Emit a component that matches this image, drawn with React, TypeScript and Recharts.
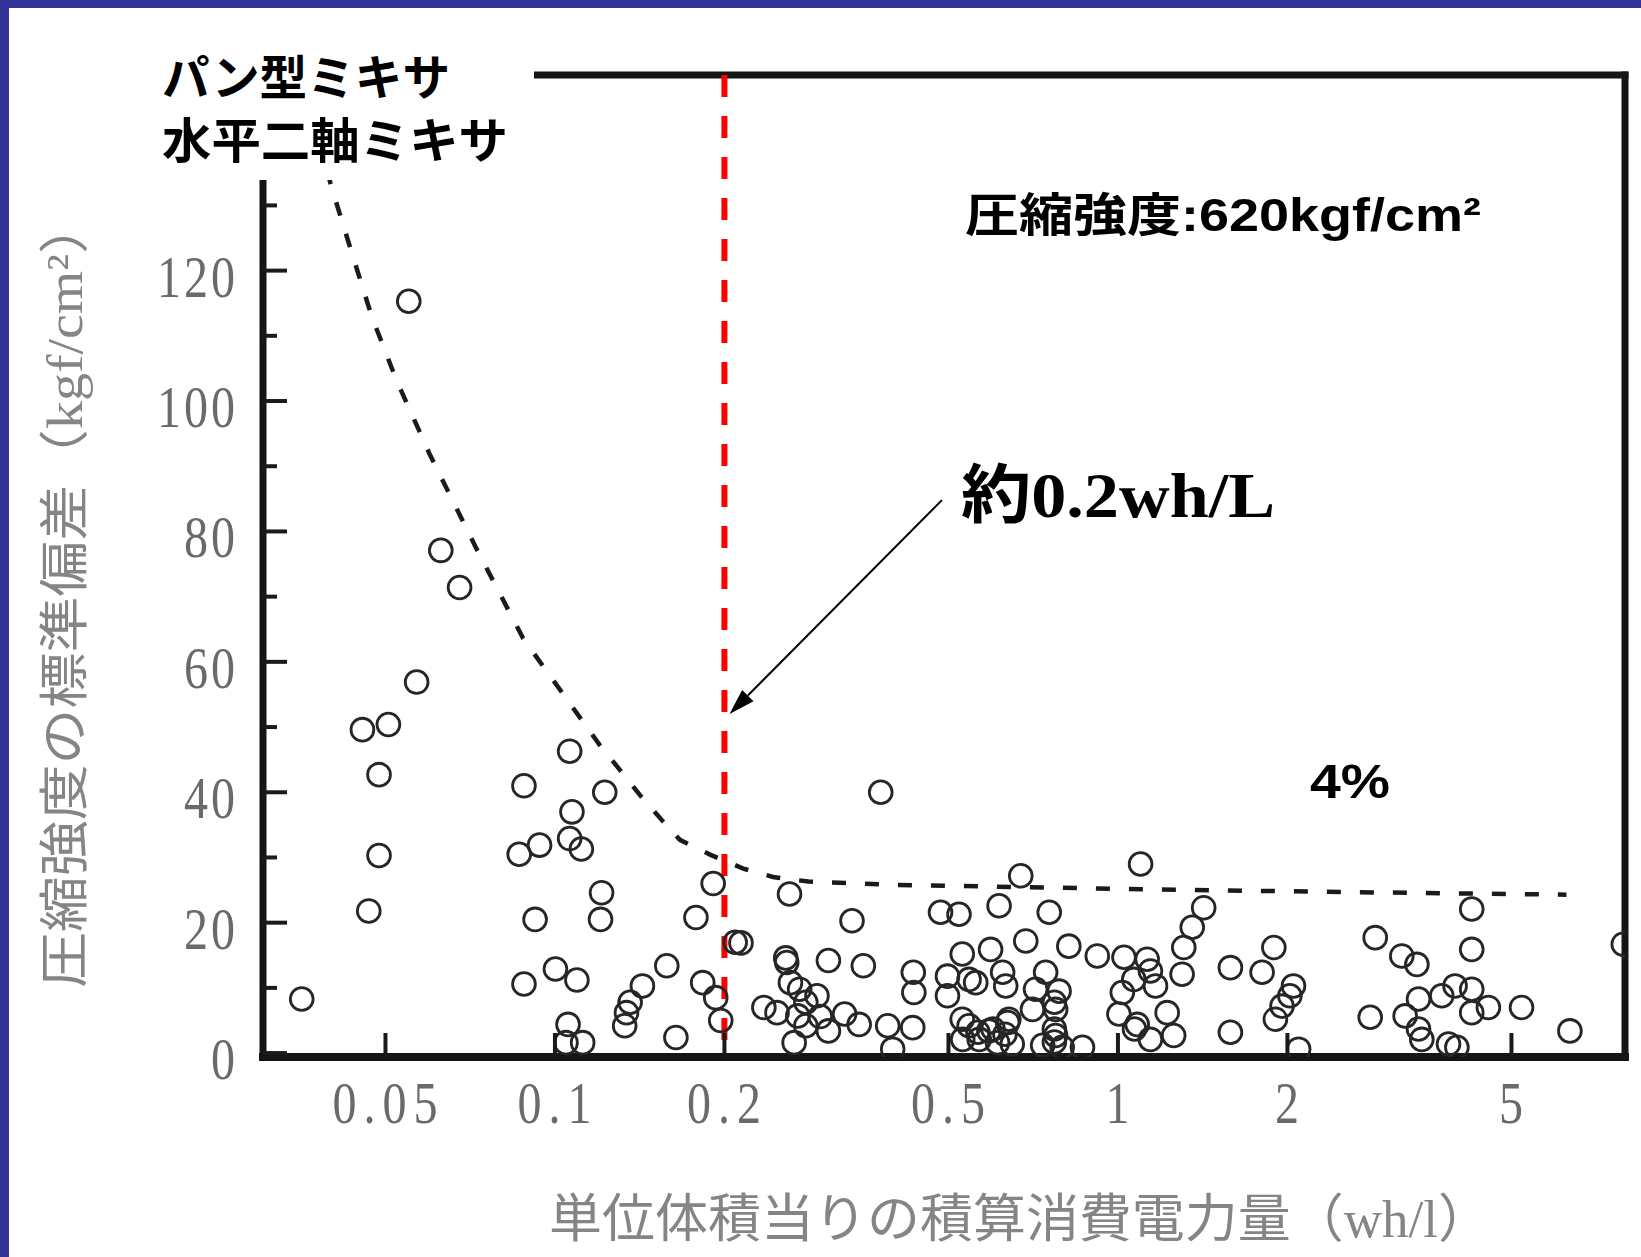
import { ScatterChart, Scatter, XAxis, YAxis, ReferenceLine } from 'recharts';

const W = 1641;
const H = 1257;

// log axis limits (wh/l)
const X_MIN = 0.0303;
const X_MAX = 7.955;

// integrated power per unit volume (wh/l) for each batch
const ENERGY = [
  0.0355, 0.0455, 0.0506, 0.0487, 0.0487, 0.0467, 0.0568, 0.055, 0.0627, 0.0677,
  0.0881, 0.0864, 0.0939, 0.0922, 0.0881, 0.1002, 0.1094, 0.1062, 0.1072, 0.1062,
  0.1114, 0.1226, 0.121, 0.1205, 0.1055, 0.1046, 0.112, 0.136, 0.134, 0.133,
  0.143, 0.158, 0.164, 0.183, 0.193, 0.197, 0.191, 0.178, 0.209, 0.214,
  0.261, 0.258, 0.257, 0.262, 0.272, 0.292, 0.279, 0.235, 0.248, 0.27,
  0.279, 0.266, 0.306, 0.306, 0.337, 0.353, 0.433, 0.327, 0.347, 0.39,
  0.398, 0.434, 0.432, 0.379, 0.484, 0.522, 0.615, 0.672, 0.686, 0.498,
  0.498, 0.529, 0.594, 0.559, 0.624, 0.632, 0.544, 0.529, 0.544, 0.59,
  0.637, 0.567, 0.611, 0.53, 0.649, 0.6, 0.64, 0.564, 0.63, 0.755,
  0.818, 0.919, 0.744, 0.714, 0.786, 0.705, 0.775, 0.775, 0.796, 0.865,
  0.771, 0.771, 0.771, 1.097, 1.025, 1.127, 1.018, 1.067, 1.142, 1.004,
  1.082, 1.142, 1.42, 1.355, 1.309, 1.3, 1.166, 1.223, 1.256, 1.07,
  1.584, 1.803, 1.892, 2.05, 2.02, 1.956, 1.904, 1.584, 2.094, 2.864,
  3.193, 3.396, 2.806, 3.237, 3.419, 3.76, 3.419, 3.465, 3.865, 4.0,
  4.25, 4.25, 3.97, 4.25, 4.25, 4.55, 5.21, 6.35, 7.9, 0.296,
  0.735,
];

// standard deviation of compressive strength (kgf/cm²), same order as ENERGY
const STD_DEV = [
  8.3, 49.6, 50.4, 42.7, 30.3, 21.8, 56.9, 115.3, 77.1, 71.4,
  41.0, 30.5, 31.9, 20.5, 10.6, 12.9, 11.2, 46.3, 37.0, 32.9,
  31.3, 40.0, 24.6, 20.5, 4.4, 1.6, 1.6, 7.8, 6.2, 4.2,
  10.3, 13.4, 2.4, 10.8, 8.5, 5.0, 26.0, 20.8, 17.0, 16.9,
  24.4, 13.9, 14.6, 10.8, 9.8, 8.8, 7.8, 7.0, 6.2, 5.7,
  4.2, 1.6, 3.4, 14.2, 20.3, 13.4, 12.4, 6.0, 4.4, 4.2,
  0.6, 9.3, 3.9, 40.0, 21.6, 21.3, 22.6, 27.2, 17.2, 11.8,
  8.8, 15.2, 15.9, 10.8, 12.4, 10.3, 11.3, 5.2, 4.2, 3.4,
  4.7, 2.1, 1.6, 2.1, 1.4, 3.7, 5.2, 3.2, 2.9, 21.6,
  16.4, 14.9, 12.4, 9.8, 9.5, 6.7, 6.7, 2.7, 0.9, 0.9,
  3.7, 7.8, 1.7, 29.0, 14.7, 14.4, 9.3, 11.3, 12.6, 6.0,
  4.4, 2.1, 22.3, 19.3, 16.2, 12.1, 10.3, 6.2, 2.7, 3.7,
  13.1, 12.4, 16.2, 10.3, 8.8, 7.2, 5.2, 3.2, 0.6, 17.7,
  14.9, 13.6, 5.5, 5.7, 8.3, 8.8, 3.7, 2.1, 1.4, 0.9,
  22.1, 15.9, 10.3, 9.8, 6.2, 7.0, 7.0, 3.4, 16.7, 5.6,
  1.2,
];

// dashed upper envelope
const LIMIT_ENERGY = [
  0.0354, 0.0401, 0.0435, 0.0473, 0.0523, 0.0598, 0.0724, 0.0878, 0.1202, 0.1305,
  0.1415, 0.1557, 0.1667, 0.189, 0.216, 0.244, 0.282, 0.4, 1.15, 2.5, 6.26,
];
const LIMIT_SD = [
  150, 132.8, 122.9, 112.9, 103.2, 92.0, 77.5, 63.6, 47.2, 43.4,
  39.6, 35.5, 32.7, 30.4, 28.3, 27.0, 26.3, 25.8, 25.1, 24.7, 24.3,
];

const X_TICKS = [0.05, 0.1, 0.2, 0.5, 1, 2, 5];
const X_TICK_LABELS = ['0.05', '0.1', '0.2', '0.5', '1', '2', '5'];
const Y_TICKS = [0, 10, 20, 30, 40, 50, 60, 70, 80, 90, 100, 110, 120, 130];
const Y_LABELED = [0, 20, 40, 60, 80, 100, 120];

const THRESHOLD = 0.2;

const SCAN_GRAY = '#6a6a6a';
const SERIF = "'Liberation Serif', 'Noto Sans CJK JP', serif";
const GOTHIC = "'Liberation Sans', 'Noto Sans CJK JP', sans-serif";

// tall, narrow serif digits like the printed scale
function ScaleText({ x, y, text, anchor, spacing }: any) {
  return (
    <g transform={`translate(${x},${y}) scale(1,1.23)`}>
      <text x={0} y={0} textAnchor={anchor} fontFamily={SERIF} fontSize={48}
        letterSpacing={spacing} fill={SCAN_GRAY}>
        {text}
      </text>
    </g>
  );
}

function renderXTick(props: any) {
  const { x, y, payload } = props;
  const idx = X_TICKS.indexOf(payload.value);
  return (
    <g>
      <line x1={x} x2={x} y1={y} y2={y - 24} stroke="#1a1a1a" strokeWidth={4} />
      <ScaleText x={x + 3} y={y + 66} text={X_TICK_LABELS[idx]} anchor="middle" spacing={7} />
    </g>
  );
}

function renderYTick(props: any) {
  const { x, y, payload } = props;
  const major = Y_LABELED.includes(payload.value);
  return (
    <g>
      <line x1={x} x2={x + (major ? 24 : 14)} y1={y} y2={y} stroke="#1a1a1a" strokeWidth={4} />
      {major && <ScaleText x={x - 25} y={y + 26} text={String(payload.value)} anchor="end" spacing={3} />}
    </g>
  );
}

function renderRing(props: any) {
  const { cx, cy } = props;
  return <circle cx={cx} cy={cy} r={11.4} fill="none" stroke="#262626" strokeWidth={2.8} />;
}

function ArrowShape(props: any) {
  const { x1, y1, x2, y2 } = props;
  const ang = Math.atan2(y2 - y1, x2 - x1);
  const len = 26;
  const half = 8;
  const bx = x2 - len * Math.cos(ang);
  const by = y2 - len * Math.sin(ang);
  const px = -Math.sin(ang) * half;
  const py = Math.cos(ang) * half;
  return (
    <g>
      <line x1={x1} y1={y1} x2={bx} y2={by} stroke="#000" strokeWidth={2} />
      <polygon points={`${x2},${y2} ${bx + px},${by + py} ${bx - px},${by - py}`} fill="#000" />
    </g>
  );
}

export default function App() {
  const points = ENERGY.map((x, i) => ({ x, y: STD_DEV[i] }));
  const limit = LIMIT_ENERGY.map((x, i) => ({ x, y: LIMIT_SD[i] }));

  return (
    <div style={{ position: 'absolute', left: 0, top: 0, width: W, height: H, background: '#fff', overflow: 'hidden' }}>
      <div style={{ position: 'absolute', left: 0, top: 0 }}>
        <ScatterChart width={W} height={H} margin={{ top: 75, right: 16, bottom: 0, left: 0 }}>
          <XAxis
            dataKey="x"
            type="number"
            scale="log"
            domain={[X_MIN, X_MAX]}
            allowDataOverflow
            ticks={X_TICKS}
            interval={0}
            height={200}
            tickSize={0}
            tickMargin={0}
            tickLine={false}
            axisLine={{ stroke: '#151515', strokeWidth: 8, strokeLinecap: 'square' }}
            tick={renderXTick}
          />
          <YAxis
            dataKey="y"
            type="number"
            domain={[-0.6, 150]}
            allowDataOverflow
            ticks={Y_TICKS}
            interval={0}
            width={263}
            tickSize={0}
            tickMargin={0}
            tickLine={false}
            axisLine={{ stroke: '#151515', strokeWidth: 7, strokeLinecap: 'square' }}
            tick={renderYTick}
          />
          {/* frame: top and right edges */}
          <ReferenceLine y={150} stroke="#151515" strokeWidth={7} strokeLinecap="square" ifOverflow="visible" />
          <ReferenceLine x={X_MAX} stroke="#151515" strokeWidth={7} strokeLinecap="square" ifOverflow="visible" />
          <Scatter
            data={limit}
            line={{ stroke: '#1a1a1a', strokeWidth: 4.5, strokeDasharray: '14 19' }}
            lineType="joint"
            shape={() => <g />}
            isAnimationActive={false}
          />
          <Scatter data={points} shape={renderRing} isAnimationActive={false} />
          <ReferenceLine
            segment={[{ x: THRESHOLD, y: 150 }, { x: THRESHOLD, y: 0 }]}
            stroke="#ff0000"
            strokeWidth={6}
            strokeDasharray="22 19"
          />
          <ReferenceLine
            segment={[{ x: 0.4867, y: 84.8 }, { x: 0.2042, y: 52.0 }]}
            shape={ArrowShape}
          />
        </ScatterChart>
      </div>

      <svg width={W} height={H} style={{ position: 'absolute', left: 0, top: 0, pointerEvents: 'none' }}>
        {/* slide border */}
        <rect x={0} y={0} width={W} height={8} fill="#333399" />
        <rect x={0} y={0} width={9} height={H} fill="#333399" />

        {/* mixer type caption on a white patch */}
        <rect x={130} y={20} width={404} height={160} fill="#fff" />
        <text x={162} y={95} fontFamily={GOTHIC} fontWeight={700} fontSize={48} textLength={288}
          lengthAdjust="spacingAndGlyphs" fill="#000">パン型ミキサ</text>
        <text x={162} y={158} fontFamily={GOTHIC} fontWeight={700} fontSize={48} textLength={346}
          lengthAdjust="spacingAndGlyphs" fill="#000">水平二軸ミキサ</text>

        <text x={965} y={231} fontFamily={GOTHIC} fontWeight={700} fontSize={46} textLength={516}
          lengthAdjust="spacingAndGlyphs" fill="#000">圧縮強度:620kgf/cm²</text>

        <text x={961} y={517} fontFamily={SERIF} fontWeight={700} fontSize={64} textLength={314}
          lengthAdjust="spacingAndGlyphs" fill="#000">約0.2wh/L</text>

        <text x={1310} y={798} fontFamily={GOTHIC} fontWeight={700} fontSize={49} textLength={80}
          lengthAdjust="spacingAndGlyphs" fill="#000">4%</text>

        {/* axis titles */}
        <text x={65} y={593} transform="rotate(-90 65 593)" textAnchor="middle" dominantBaseline="central"
          fontFamily={SERIF} fontSize={50} textLength={790} lengthAdjust="spacingAndGlyphs"
          fill="#858585">圧縮強度の標準偏差（kgf/cm²）</text>
        <text x={1020} y={1237} textAnchor="middle" fontFamily={SERIF} fontSize={52} textLength={942}
          lengthAdjust="spacingAndGlyphs" fill="#858585">単位体積当りの積算消費電力量（wh/l）</text>
      </svg>
    </div>
  );
}
